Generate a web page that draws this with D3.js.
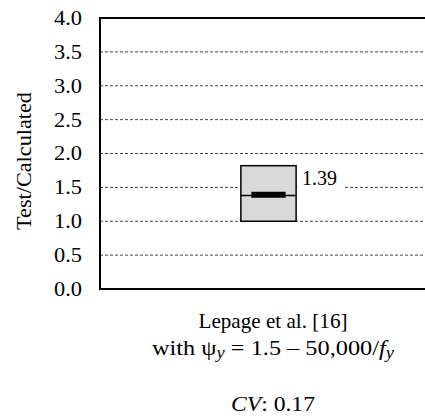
<!DOCTYPE html>
<html>
<head>
<meta charset="utf-8">
<script src="https://cdn.jsdelivr.net/npm/d3@7"></script>
<style>
  html, body { margin: 0; padding: 0; background: #fff; }
  svg { display: block; }
  text { font-family: "Liberation Serif", "Times New Roman", serif; fill: #000; }
</style>
</head>
<body>
<svg id="chart" width="425" height="416"></svg>
<script>
// Test/Calculated ratio summary for one method
const categories = ["Lepage et al. [16]"];
const q1Values = [1.0];
const q3Values = [1.82];
const medianValues = [1.38];
const meanValues = [1.39];
const cvValues = [0.17];
const yTicks = [0, 0.5, 1, 1.5, 2, 2.5, 3, 3.5, 4];

const svg = d3.select("#chart");
const margin = { left: 100, top: 18, bottom: 289, right: 437 };
const fs = 20;
const serif = "Liberation Serif, Times New Roman, serif";

const y = d3.scaleLinear().domain([0, 4]).range([margin.bottom, margin.top]);
const x = d3.scaleBand().domain(categories).range([margin.left, margin.right])
  .paddingInner(0).paddingOuter(2.55);

// dashed gridlines
svg.append("g")
  .selectAll("line")
  .data(yTicks.filter(d => d > 0 && d < 4))
  .join("line")
  .attr("x1", margin.left).attr("x2", margin.right)
  .attr("y1", d => y(d)).attr("y2", d => y(d))
  .attr("stroke", "#444").attr("stroke-width", 1)
  .attr("stroke-dasharray", "3,2");

// y axis with tick labels
const yAxis = d3.axisLeft(y).tickValues(yTicks).tickFormat(d3.format(".1f")).tickSize(0).tickPadding(18);
const gy = svg.append("g").attr("transform", `translate(${margin.left},0)`).call(yAxis)
  .attr("font-family", serif).attr("font-size", fs);
gy.select(".domain").remove();
gy.selectAll("text").attr("fill", "#000")
  .attr("textLength", 28).attr("lengthAdjust", "spacingAndGlyphs");

// frame: left, top and bottom borders
svg.append("line").attr("x1", margin.left).attr("x2", margin.left)
  .attr("y1", margin.top - 1).attr("y2", margin.bottom + 1)
  .attr("stroke", "#000").attr("stroke-width", 2);
[margin.top, margin.bottom].forEach(v => {
  svg.append("line").attr("x1", margin.left - 1).attr("x2", margin.right)
    .attr("y1", v).attr("y2", v).attr("stroke", "#000").attr("stroke-width", 2);
});

// box
const boxes = svg.append("g").selectAll("g").data(categories).join("g");
boxes.append("rect")
  .attr("x", d => x(d)).attr("width", x.bandwidth())
  .attr("y", (d, i) => y(q3Values[i]))
  .attr("height", (d, i) => y(q1Values[i]) - y(q3Values[i]))
  .attr("fill", "#d9d9d9").attr("stroke", "#000").attr("stroke-width", 1.5);
// median line
boxes.append("line")
  .attr("x1", d => x(d)).attr("x2", d => x(d) + x.bandwidth())
  .attr("y1", (d, i) => y(medianValues[i])).attr("y2", (d, i) => y(medianValues[i]))
  .attr("stroke", "#000").attr("stroke-width", 1.5);
// mean bar
boxes.append("line")
  .attr("x1", d => x(d) + x.bandwidth() * 0.19).attr("x2", d => x(d) + x.bandwidth() * 0.81)
  .attr("y1", (d, i) => y(meanValues[i])).attr("y2", (d, i) => y(meanValues[i]))
  .attr("stroke", "#000").attr("stroke-width", 6);

// mean value label with white backing over the gridline
boxes.each(function (d, i) {
  const g = d3.select(this);
  const lx = x(d) + x.bandwidth() + 6;
  const ly = y(meanValues[i]) - 10;
  g.append("rect").attr("x", lx - 5).attr("y", ly - 15).attr("width", 47).attr("height", 19).attr("fill", "#fff");
  g.append("text").attr("x", lx).attr("y", ly).attr("font-size", fs).text(d3.format(".2f")(meanValues[i]));
});

// y axis title
svg.append("text")
  .attr("transform", `translate(31,161) rotate(-90)`)
  .attr("text-anchor", "middle").attr("font-size", fs)
  .attr("textLength", 138).attr("lengthAdjust", "spacingAndGlyphs")
  .text("Test/Calculated");

// category labels below the plot
const cx = x(categories[0]) + x.bandwidth() / 2 + 4.5;
svg.append("text").attr("x", cx).attr("y", 328).attr("text-anchor", "middle").attr("font-size", 21)
  .attr("textLength", 149).attr("lengthAdjust", "spacingAndGlyphs")
  .text(categories[0]);

const l2 = svg.append("text").attr("x", cx).attr("y", 355).attr("text-anchor", "middle").attr("font-size", 21)
  .attr("textLength", 242).attr("lengthAdjust", "spacingAndGlyphs");
l2.append("tspan").text("with \u03C8");
l2.append("tspan").attr("font-style", "italic").attr("font-size", 16).attr("dy", 3).text("y");
l2.append("tspan").attr("dy", -3).text(" = 1.5 \u2013 50,000/");
l2.append("tspan").attr("font-style", "italic").text("f");
l2.append("tspan").attr("font-style", "italic").attr("font-size", 16).attr("dy", 3).text("y");

const l3 = svg.append("text").attr("x", cx).attr("y", 411).attr("text-anchor", "middle").attr("font-size", 22)
  .attr("textLength", 84).attr("lengthAdjust", "spacingAndGlyphs");
l3.append("tspan").attr("font-style", "italic").text("CV");
l3.append("tspan").text(": " + d3.format(".2f")(cvValues[0]));
</script>
</body>
</html>
